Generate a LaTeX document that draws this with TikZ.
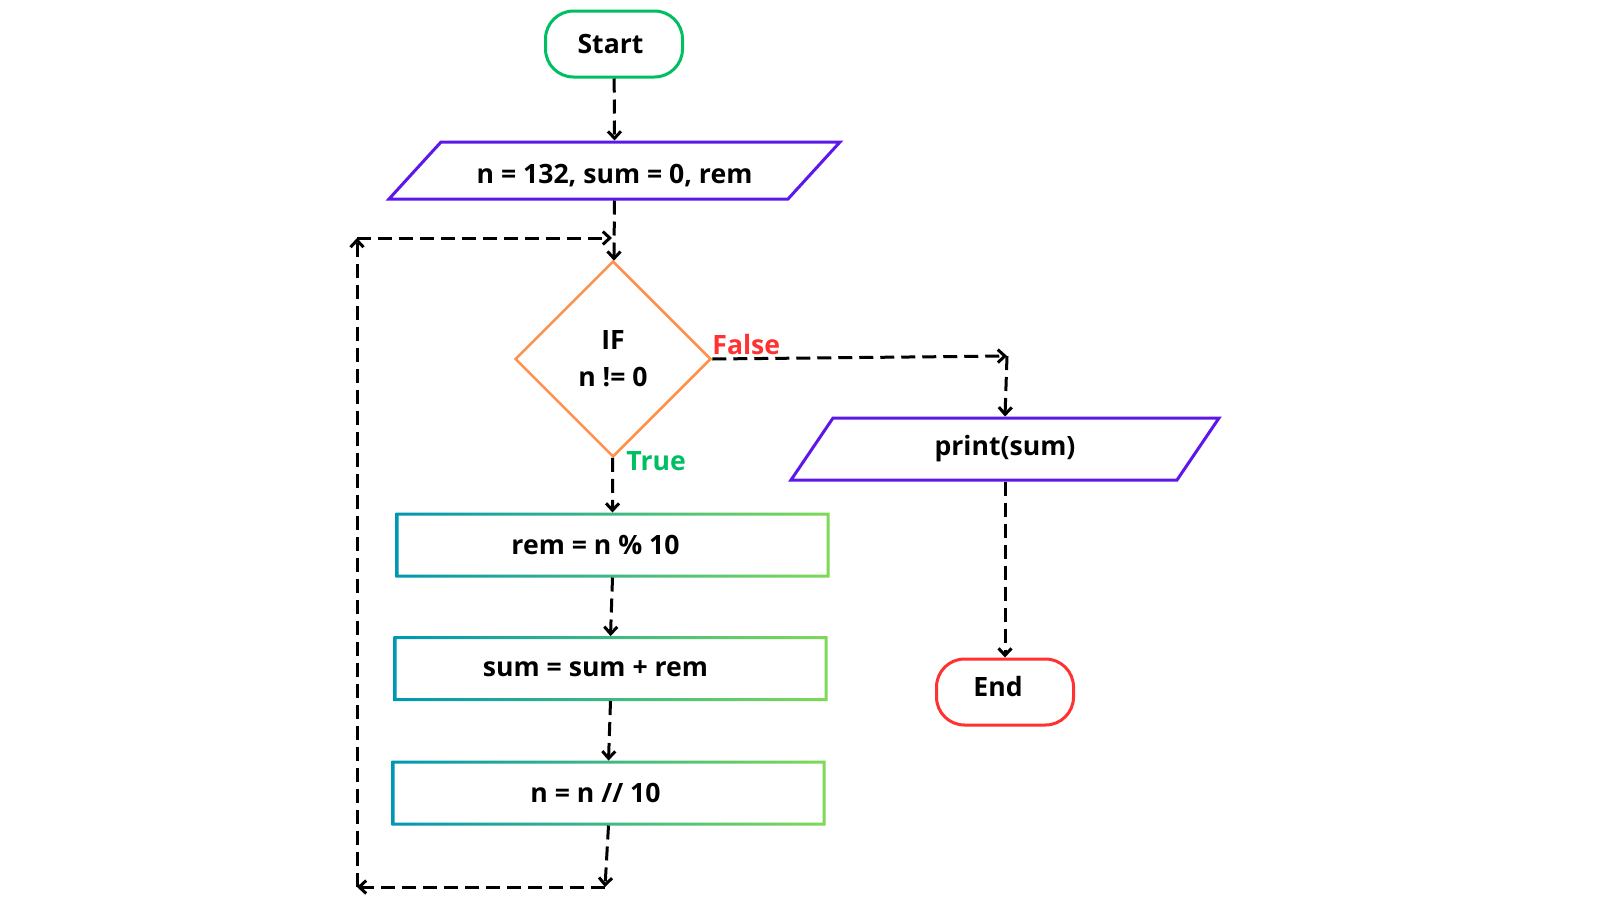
\documentclass[tikz,border=0pt]{standalone}
\usepackage{fontspec}
\setmainfont{Open Sans}
\usetikzlibrary{shapes.geometric,shapes.misc,arrows.meta,calc}
\definecolor{cgreen}{HTML}{00BF63}
\definecolor{cpurple}{HTML}{5E17EB}
\definecolor{corange}{HTML}{FF914D}
\definecolor{cred}{HTML}{FF3131}
\definecolor{cteal}{HTML}{0097B2}
\definecolor{clime}{HTML}{7ED957}
\begin{document}
\begin{tikzpicture}[x=0.5pt,y=-0.5pt,
  every node/.style={font=\bfseries\fontsize{13.3pt}{16pt}\selectfont, inner sep=0pt},
  term/.style={draw, line width=1.5pt, rounded corners=14pt, minimum width=68.5pt, minimum height=33pt},
  iobody/.style={minimum height=#1, outer sep=0pt},
  ioline/.style={draw=cpurple, line width=1.5pt, line join=miter},
  decision/.style={draw=corange, line width=1.25pt, diamond, minimum width=98pt, minimum height=98pt, align=center},
  procbox/.style={minimum width=215.5pt, minimum height=31pt, outer sep=0pt},
  arr/.style={line width=1.5pt, dash pattern=on 7pt off 3.5pt, -{Straight Barb[length=3.5pt,width=6.5pt]}},
  lab/.style={anchor=base west}
]
\fill[white] (0,0) rectangle (1600,900);
\useasboundingbox (0,0) rectangle (1600,900);

\node[term, draw=cgreen] (start) at (614,44) {Start\hspace*{3.5pt}};
\node[iobody=28.5pt, minimum width=199.5pt] (inp) at (614.5,170.5) {\raisebox{-6.5pt}[0pt][0pt]{n = 132, sum = 0, rem}};
\draw[ioline] ($(inp.south west)+(-26,0)$) -- ($(inp.south east)+(-26,0)$) -- ($(inp.north east)+(26,0)$) -- ($(inp.north west)+(26,0)$) -- cycle;
\node[decision] (dec) at (613,359) {IF\\[2.5pt]n != 0};
\node[iobody=31pt, minimum width=193pt] (prt) at (1005,449) {print(sum)};
\draw[ioline] ($(prt.south west)+(-21,0)$) -- ($(prt.south east)+(-21,0)$) -- ($(prt.north east)+(21,0)$) -- ($(prt.north west)+(21,0)$) -- cycle;
\node[term, draw=cred] (stop) at (1005,692) {\raisebox{-2.25pt}[0pt][0pt]{End}\hspace*{7pt}};

\node[procbox] (rem) at (612.5,545) {rem = n \% 10\hspace*{17pt}};
\node[procbox] (sum) at (610.5,668.5) {sum = sum + rem\hspace*{15pt}};
\node[procbox] (nn) at (608.5,793) {n = n // 10\hspace*{13pt}};
\foreach \b in {rem,sum,nn}{
  \shade[left color=cteal, right color=clime, even odd rule]
    ($(\b.south west)+(-0.75pt,-0.75pt)$) rectangle ($(\b.north east)+(0.75pt,0.75pt)$)
    ($(\b.south west)+(0.75pt,0.75pt)$) rectangle ($(\b.north east)+(-0.75pt,-0.75pt)$);
}

\node[lab, text=cred] (flab) at (712,354) {False};
\node[lab, text=cgreen] (tlab) at (626,470) {True};

\coordinate (c1) at (605,887);
\coordinate (c2) at (357,887);
\coordinate (c3) at (357,238);
\coordinate (c4) at (612,238);
\coordinate (f1) at (1007,356);

\draw[arr] (start) -- ([yshift=0.75pt]inp.north);
\draw[arr] ([yshift=-0.75pt]inp.south) -- (dec);
\draw[arr] (dec) -- ([yshift=0.75pt]rem.north);
\draw[arr] ([yshift=-0.75pt]rem.south) -- ([yshift=0.75pt]sum.north);
\draw[arr] ([yshift=-0.75pt]sum.south) -- ([yshift=0.75pt]nn.north);
\draw[arr] ([yshift=-0.75pt]nn.south) -- (c1);
\draw[arr] (c1) -- (c2);
\draw[arr] (c2) -- (c3);
\draw[arr] (c3) -- (c4);
\draw[arr] (dec.east) -- (f1);
\draw[arr] (f1) -- ([yshift=0.75pt]prt.north);
\draw[arr] ([yshift=-0.75pt]prt.south) -- (stop);
\end{tikzpicture}
\end{document}
